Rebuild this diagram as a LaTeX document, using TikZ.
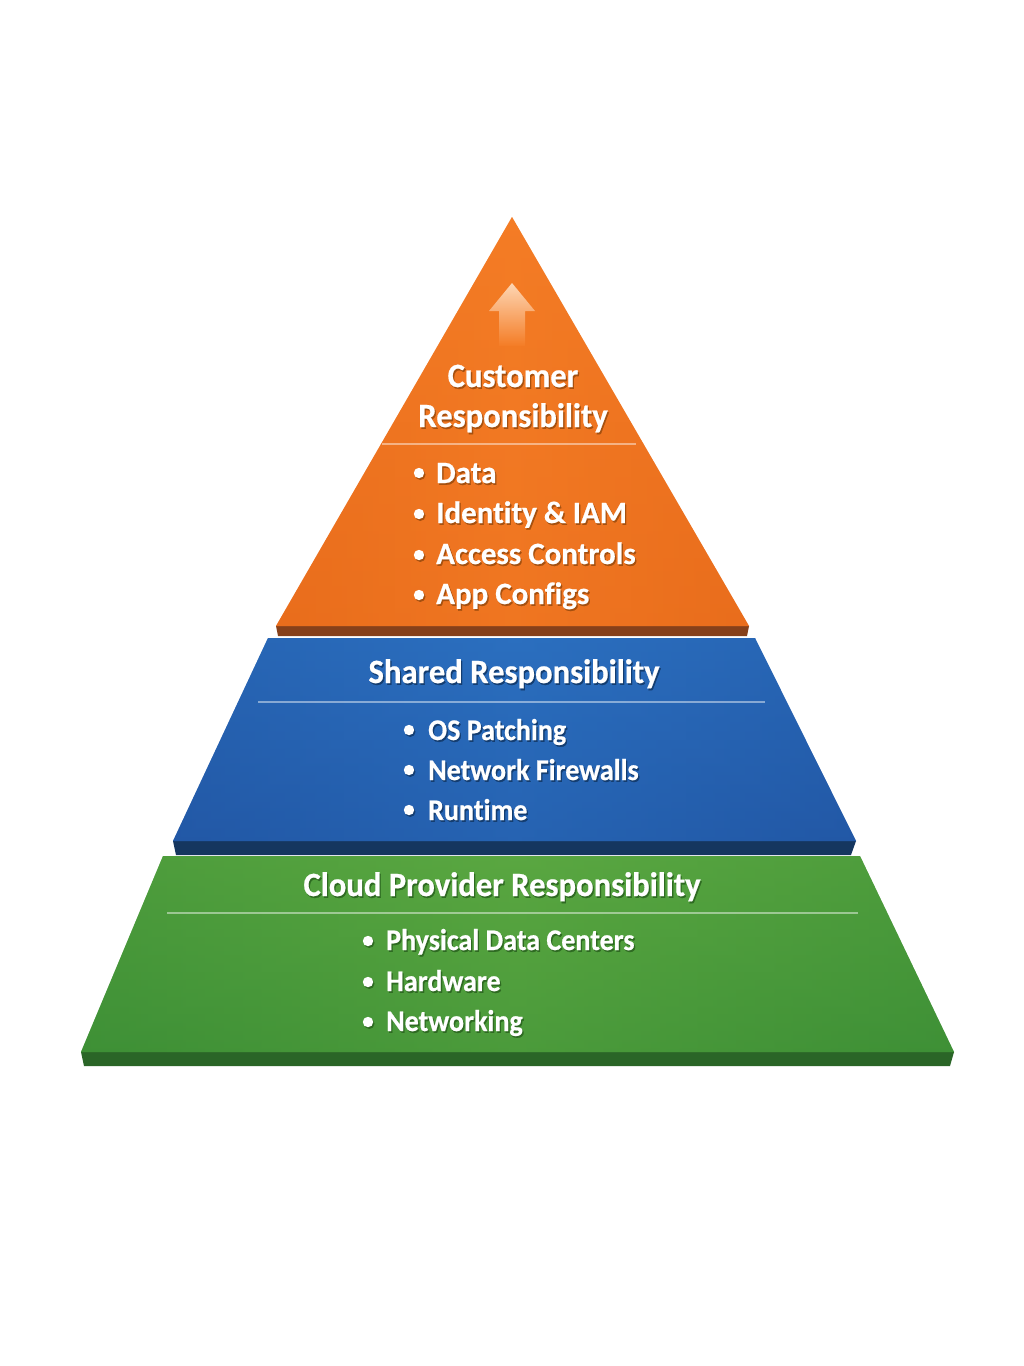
\documentclass[tikz,border=0pt]{standalone}
\usepackage{fontspec}
\setmainfont{Carlito}[BoldFont=Carlito Bold]
\newfontfamily\headfont{Carlito Bold}[FakeStretch=0.96, FakeBold=0.6, Ligatures=NoCommon]
\newfontfamily\itemfont{Carlito Bold}[FakeStretch=0.935, FakeBold=0.6, Ligatures=NoCommon]
\newfontfamily\itemfontwide{Carlito Bold}[FakeStretch=1.0, FakeBold=0.6, Ligatures=NoCommon]
\definecolor{oFace}{HTML}{F47C25}
\definecolor{oEdge}{HTML}{E96D1C}
\definecolor{oStrip}{HTML}{86401A}
\definecolor{oShadow}{HTML}{A5500F}
\definecolor{bFace}{HTML}{2B6FBF}
\definecolor{bEdge}{HTML}{2258A6}
\definecolor{bStrip}{HTML}{15365F}
\definecolor{bShadow}{HTML}{143D70}
\definecolor{gFace}{HTML}{5AA741}
\definecolor{gEdge}{HTML}{3E9036}
\definecolor{gStrip}{HTML}{2A6527}
\definecolor{gShadow}{HTML}{2E6A22}
\definecolor{arrowTop}{HTML}{FDD6B4}
\newcommand\tsh[2]{\makebox[0pt][l]{\hspace{1.3pt}\raisebox{-1.8pt}{\color{#1}#2}}#2}
\tikzset{
  heading/.style={text=white, font=\headfont\fontsize{34}{36}\selectfont, inner sep=0pt, anchor=base},
  item/.style={text=white, font=\itemfont\fontsize{30}{32}\selectfont, inner sep=0pt, anchor=base west},
  itemwide/.style={text=white, font=\itemfontwide\fontsize{31}{33}\selectfont, inner sep=0pt, anchor=base west},
  sepline/.style={draw=white, draw opacity=0.45, line width=2pt},
  dotw/.style={fill=white},
}
\begin{document}
\begin{tikzpicture}[x=1pt,y=-1pt]
\useasboundingbox (0,0) rectangle (1024,1366);
\fill[white] (0,0) rectangle (1024,1366);

% ---------- green layer ----------
\fill[gStrip] (81,1052) -- (954,1052) -- (950,1066) -- (84,1066) -- cycle;
\shade[left color=gEdge, right color=gEdge, middle color=gFace]
  (163,856) -- (860,856) -- (954,1052) -- (81,1052) -- cycle;
\shade[top color=gFace, bottom color=gEdge, opacity=0.5]
  (163,856) -- (860,856) -- (954,1052) -- (81,1052) -- cycle;
\coordinate (gL) at (167,913);
\coordinate (gR) at (858,913);
\draw[sepline] (gL) -- (gR);
\node[heading] (gH) at (502,896) {\tsh{gShadow}{Cloud Provider Responsibility}};
\fill[gShadow] (369.3,942.8) circle (5.2);
\fill[dotw] (368,941) circle (5.2);
\node[item] (g1) at (386,950) {\tsh{gShadow}{Physical Data Centers}};
\fill[gShadow] (369.3,983.8) circle (5.2);
\fill[dotw] (368,982) circle (5.2);
\node[item] (g2) at (386,991) {\tsh{gShadow}{Hardware}};
\fill[gShadow] (369.3,1023.8) circle (5.2);
\fill[dotw] (368,1022) circle (5.2);
\node[item] (g3) at (386,1031) {\tsh{gShadow}{Networking}};

% ---------- blue layer ----------
\fill[bStrip] (173,841) -- (856,841) -- (851,855) -- (176,855) -- cycle;
\shade[left color=bEdge, right color=bEdge, middle color=bFace]
  (268,638) -- (755,638) -- (856,841) -- (173,841) -- cycle;
\shade[top color=bFace, bottom color=bEdge, opacity=0.5]
  (268,638) -- (755,638) -- (856,841) -- (173,841) -- cycle;
\coordinate (bL) at (258,702);
\coordinate (bR) at (765,702);
\draw[sepline] (bL) -- (bR);
\node[heading] (bH) at (514,683) {\tsh{bShadow}{Shared Responsibility}};
\fill[bShadow] (410.3,731.8) circle (5.2);
\fill[dotw] (409,730) circle (5.2);
\node[item] (b1) at (428,740) {\tsh{bShadow}{OS Patching}};
\fill[bShadow] (410.3,771.8) circle (5.2);
\fill[dotw] (409,770) circle (5.2);
\node[item] (b2) at (428,780) {\tsh{bShadow}{Network Firewalls}};
\fill[bShadow] (410.3,811.8) circle (5.2);
\fill[dotw] (409,810) circle (5.2);
\node[item] (b3) at (428,820) {\tsh{bShadow}{Runtime}};

% ---------- orange layer ----------
\fill[oStrip] (276,626) -- (749,626) -- (747,636) -- (278,636) -- cycle;
\shade[left color=oEdge, right color=oEdge, middle color=oFace]
  (512,217) -- (749,626) -- (276,626) -- cycle;
\shade[top color=oFace, bottom color=oEdge, opacity=0.4]
  (512,217) -- (749,626) -- (276,626) -- cycle;
% arrow
\shade[top color=arrowTop, bottom color=oFace]
  (512,283) -- (535,311) -- (525,311) -- (525,346) -- (499,346) -- (499,311) -- (489,311) -- cycle;
\coordinate (oL) at (382,444);
\coordinate (oR) at (636,444);
\draw[sepline] (oL) -- (oR);
\node[heading] (oH1) at (513,387) {\tsh{oShadow}{Customer}};
\node[heading] (oH2) at (513,427) {\tsh{oShadow}{Responsibility}};
\fill[oShadow] (420.3,474.8) circle (5.2);
\fill[dotw] (419,473) circle (5.2);
\node[itemwide] (o1) at (436,483) {\tsh{oShadow}{Data}};
\fill[oShadow] (420.3,515.8) circle (5.2);
\fill[dotw] (419,514) circle (5.2);
\node[itemwide] (o2) at (436,523) {\tsh{oShadow}{Identity \& IAM}};
\fill[oShadow] (420.3,556.8) circle (5.2);
\fill[dotw] (419,555) circle (5.2);
\node[itemwide] (o3) at (436,564) {\tsh{oShadow}{Access Controls}};
\fill[oShadow] (420.3,596.8) circle (5.2);
\fill[dotw] (419,595) circle (5.2);
\node[itemwide] (o4) at (436,604) {\tsh{oShadow}{App Configs}};
\end{tikzpicture}
\end{document}
